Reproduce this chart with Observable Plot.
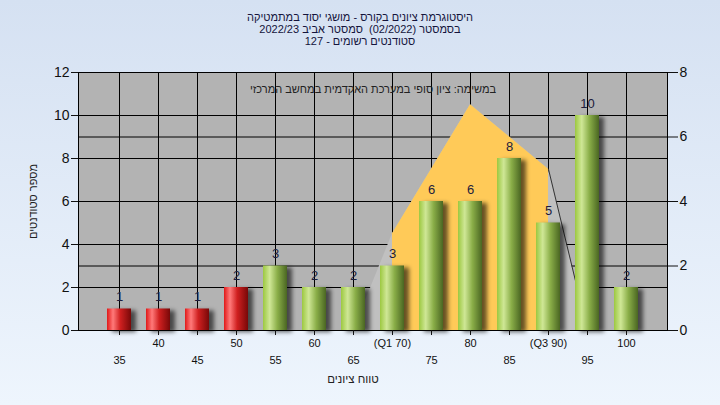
<!DOCTYPE html>
<html><head><meta charset="utf-8">
<script src="https://cdn.jsdelivr.net/npm/d3@7"></script>
<script src="https://cdn.jsdelivr.net/npm/@observablehq/plot@0.6"></script>
<style>
html,body{margin:0;padding:0;}
#wrap{position:relative;width:720px;height:405px;background:linear-gradient(#d5e1f2,#eef5fd);overflow:hidden;}
#title{position:absolute;top:12px;left:0;width:720px;text-align:center;font-family:"Liberation Sans",Arial,sans-serif;font-size:11px;line-height:11.8px;color:#14143c;white-space:pre;}
#title div{direction:rtl;}
#chart{position:absolute;top:0;left:0;}
</style></head><body>
<div id="wrap"><div id="title"></div><div id="chart"></div></div>
<script>
// ---- data ----
const titleLines = [
  "היסטוגרמת ציונים בקורס - מושגי יסוד במתמטיקה",
  "בסמסטר (02/2022)  סמסטר אביב 2022/23",
  "סטודנטים רשומים - 127"
];
const innerTitle = "במשימה: ציון סופי במערכת האקדמית במחשב המרכזי";
const xTitle = "טווח ציונים";
const yTitle = "מספר סטודנטים";
const grades = [35, 40, 45, 50, 55, 60, 65, 70, 75, 80, 85, 90, 95, 100];
const counts = [1, 1, 1, 2, 3, 2, 2, 3, 6, 6, 8, 5, 10, 2];
const passGrade = 55;
const polyGrades = [65, 70, 75, 80, 85, 90, 95];
const polyValues = [0, 3, 5, 7, 6, 5, 0];   // right axis units
const q1 = 70, q3 = 90;
const tickNames = {70: "(Q1 70)", 90: "(Q3 90)"};
const leftTicks = [0, 2, 4, 6, 8, 10, 12];
const rightTicks = [0, 2, 4, 6, 8];
const leftMax = 12, rightMax = 8;

document.getElementById("title").innerHTML = titleLines.map(t => `<div>${t}</div>`).join("");

const k = leftMax / rightMax;
const bars = grades.map((g, i) => ({grade: g, count: counts[i], pass: g >= passGrade}));
const poly = polyGrades.map((g, i) => ({grade: g, v: polyValues[i] * k}));
const iqr = poly.filter(d => d.grade >= q1 && d.grade <= q3);
const tail = poly.filter(d => d.grade >= q3);
const rowA = grades.filter((g, i) => i % 2 === 1);
const rowB = grades.filter((g, i) => i % 2 === 0);
const fmt = d => tickNames[d] ?? String(d);

const font = "'Liberation Sans', Arial, sans-serif";

const chart = Plot.plot({
  width: 720, height: 405,
  marginTop: 72, marginBottom: 75, marginLeft: 78, marginRight: 53,
  style: {background: "transparent", fontFamily: font, fontSize: "14px", color: "#111", overflow: "visible"},
  x: {type: "band", domain: grades, paddingInner: 0.39, paddingOuter: 0.71},
  y: {domain: [0, leftMax]},
  marks: [
    Plot.frame({fill: "#b3b3b3"}),
    Plot.gridY(leftTicks, {stroke: "#000", strokeOpacity: 1}),
    Plot.gridY(rightTicks.map(t => t * k), {stroke: "#000", strokeOpacity: 1}),
    Plot.gridX(grades, {stroke: "#000", strokeOpacity: 1}),
    Plot.areaY(poly, {x: "grade", y: "v", fill: "#c0c0c0"}),
    Plot.areaY(iqr, {x: "grade", y: "v", fill: "#ffca58"}),
    Plot.line(tail, {x: "grade", y: "v", stroke: "#333", strokeWidth: 1}),
    Plot.rectY(bars, {x: "grade", y: "count", fill: "#000", fillOpacity: 0.6, dx: 5, dy: 2}),
    Plot.rectY(bars.filter(d => !d.pass), {x: "grade", y: "count", fill: "url(#gRed)"}),
    Plot.rectY(bars.filter(d => d.pass), {x: "grade", y: "count", fill: "url(#gGreen)"}),
    Plot.text(bars, {x: "grade", y: "count", text: d => String(d.count), dy: -12, fill: "#1c1c3c", fontSize: 13}),
    Plot.text([innerTitle], {frameAnchor: "top", dy: 13, fontSize: 11, fill: "#222"}),
    Plot.text([yTitle], {frameAnchor: "left", textAnchor: "middle", dx: -45, rotate: -90, fontSize: 11, fill: "#222"}),
    Plot.text([xTitle], {frameAnchor: "bottom", dx: -20, dy: 52, fontSize: 11.5, fill: "#222"}),
    Plot.frame({stroke: "#000"}),
    Plot.axisY(leftTicks, {anchor: "left", tickSize: 7, tickPadding: 2, label: null, fontSize: 14}),
    Plot.axisY(rightTicks.map(t => t * k), {anchor: "right", tickFormat: d => String(d / k), tickSize: 10, tickPadding: 2, label: null, fontSize: 14}),
    Plot.axisX(rowA, {tickSize: 5, tickPadding: 4, tickFormat: fmt, label: null, fontSize: 11}),
    Plot.axisX(rowB, {tickSize: 5, tickPadding: 21, tickFormat: fmt, label: null, fontSize: 11})
  ]
});

const ns = "http://www.w3.org/2000/svg";
const defs = document.createElementNS(ns, "defs");
defs.innerHTML = `
<linearGradient id="gRed" x1="0" x2="1" y1="0" y2="0">
  <stop offset="0" stop-color="#e01818"/>
  <stop offset="0.25" stop-color="#ff7a7a"/>
  <stop offset="0.55" stop-color="#d02020"/>
  <stop offset="1" stop-color="#780808"/>
</linearGradient>
<linearGradient id="gGreen" x1="0" x2="1" y1="0" y2="0">
  <stop offset="0" stop-color="#9cc840"/>
  <stop offset="0.28" stop-color="#cfe796"/>
  <stop offset="0.6" stop-color="#8aae48"/>
  <stop offset="1" stop-color="#4a6622"/>
</linearGradient>
<filter id="blur" x="-50%" y="-20%" width="200%" height="140%"><feGaussianBlur stdDeviation="2.2"/></filter>`;
chart.insertBefore(defs, chart.firstChild);
const rectGroups = chart.querySelectorAll('g[aria-label="rect"]');
if (rectGroups.length) rectGroups[0].setAttribute("filter", "url(#blur)");
document.getElementById("chart").appendChild(chart);
</script>
</body></html>
